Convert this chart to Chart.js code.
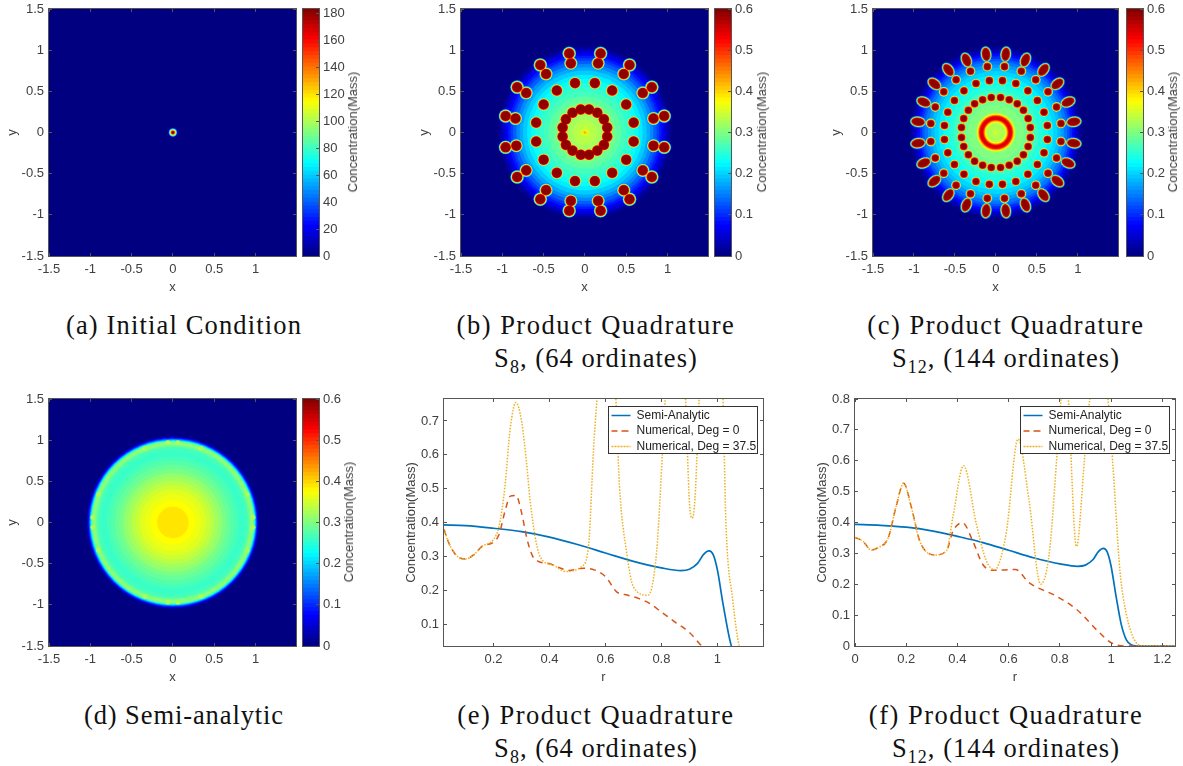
<!DOCTYPE html>
<html>
<head>
<meta charset="utf-8">
<title>Concentration</title>
<script src="https://cdn.jsdelivr.net/npm/chart.js@4"></script>
<style>
  html, body { margin: 0; background: #fff; }
  #page { position: relative; width: 1183px; height: 766px; overflow: hidden; }
  canvas { position: absolute; }
  .cap { position: absolute; transform: translateX(-50%); white-space: nowrap; color: #111;
         font: 26.5px/32px "Liberation Serif", serif; text-align: center; }
  .cap sub { font-size: 18px; line-height: 0; }
  .cbt { position: absolute; white-space: nowrap; color: #404040; font: 13px/14px "Liberation Sans", sans-serif;
         transform: translate(-50%, -50%) rotate(-90deg); }
</style>
</head>
<body>
<div id="page"></div>
<script>
// contour discs: [radius, concentration], outermost first
const discsA = [[0.06,6],[0.054,22],[0.05,45],[0.045,65],[0.04,85],[0.035,105],[0.03,125],[0.025,145],[0.02,165],[0.014,178]];
const discsB = [[1.05,0.01],[1.02,0.03],[0.99,0.05],[0.96,0.07],[0.93,0.09],[0.9,0.11],[0.87,0.13],[0.83,0.155],[0.79,0.175],[0.75,0.195],[0.7,0.215],
  [0.65,0.23],[0.6,0.245],[0.55,0.255],[0.5,0.265],[0.44,0.28],[0.38,0.29],[0.32,0.3],[0.26,0.31],[0.2,0.32],[0.15,0.33],[0.1,0.335],[0.06,0.34],[0.035,0.36],[0.025,0.39],[0.015,0.42]];
const discsC = [[1.05,0.01],[1.02,0.03],[0.99,0.05],[0.96,0.08],[0.93,0.1],[0.9,0.125],[0.87,0.145],[0.83,0.165],[0.79,0.185],[0.75,0.2],[0.7,0.215],
  [0.64,0.23],[0.58,0.245],[0.52,0.26],[0.46,0.275],[0.4,0.29],[0.34,0.3],[0.25,0.31],[0.238,0.33],[0.228,0.38],[0.218,0.43],[0.208,0.49],[0.198,0.53],[0.185,0.55],
  [0.165,0.53],[0.152,0.48],[0.142,0.42],[0.132,0.37],[0.122,0.335],[0.1,0.325],[0.06,0.33],[0.03,0.34],[0.015,0.355]];
const discsD = [[1.05,0.01],[1.04,0.04],[1.03,0.07],[1.02,0.11],[1.01,0.16],[1.0,0.21],[0.99,0.26],[0.98,0.29],[0.97,0.31],[0.95,0.3],[0.93,0.28],[0.91,0.265],[0.87,0.258],
  [0.8,0.266],[0.75,0.275],[0.7,0.285],[0.65,0.295],[0.6,0.31],[0.55,0.32],[0.5,0.335],[0.45,0.345],[0.4,0.357],[0.34,0.365],[0.27,0.375],[0.19,0.39]];

// round spots [x, y]
const spotsB = [[0.19,0.96],[0.16,0.84],[0.54,0.82],[0.47,0.71],[0.81,0.55],[0.7,0.48],[0.96,0.2],[0.83,0.17],[0.12,0.6],[0.33,0.51],[0.5,0.34],[0.59,0.12],[0.05,0.28],[0.15,0.24],[0.23,0.16],[0.27,0.06],
  [-0.19,0.96],[-0.17,0.84],[-0.54,0.82],[-0.47,0.71],[-0.82,0.55],[-0.71,0.48],[-0.96,0.2],[-0.84,0.17],[-0.12,0.6],[-0.34,0.51],[-0.5,0.34],[-0.59,0.12],[-0.05,0.28],[-0.15,0.24],[-0.23,0.16],[-0.27,0.06],
  [-0.19,-0.95],[-0.17,-0.83],[-0.54,-0.81],[-0.47,-0.7],[-0.82,-0.54],[-0.71,-0.46],[-0.96,-0.18],[-0.83,-0.16],[-0.12,-0.59],[-0.34,-0.49],[-0.5,-0.33],[-0.59,-0.11],[-0.05,-0.27],[-0.15,-0.22],[-0.23,-0.15],[-0.27,-0.05],
  [0.19,-0.95],[0.16,-0.83],[0.54,-0.81],[0.47,-0.7],[0.81,-0.54],[0.7,-0.46],[0.96,-0.18],[0.83,-0.16],[0.12,-0.59],[0.33,-0.49],[0.5,-0.33],[0.59,-0.11],[0.05,-0.27],[0.15,-0.22],[0.23,-0.15],[0.27,-0.05]];
const spotsC = [[0.105,0.8],[0.31,0.745],[0.486,0.64],[0.636,0.494],[0.74,0.31],[0.794,0.11],[0.08,0.63],[0.243,0.595],[0.39,0.506],[0.506,0.389],[0.587,0.247],[0.628,0.085],[0.057,0.425],[0.162,0.397],[0.26,0.348],[0.336,0.271],[0.393,0.17],[0.42,0.06],
  [-0.105,0.8],[-0.31,0.745],[-0.486,0.64],[-0.636,0.494],[-0.74,0.31],[-0.794,0.11],[-0.08,0.63],[-0.243,0.595],[-0.39,0.506],[-0.506,0.389],[-0.587,0.247],[-0.628,0.085],[-0.057,0.425],[-0.162,0.397],[-0.26,0.348],[-0.336,0.271],[-0.393,0.17],[-0.42,0.06],
  [-0.105,-0.8],[-0.31,-0.745],[-0.486,-0.64],[-0.636,-0.494],[-0.74,-0.31],[-0.794,-0.11],[-0.08,-0.63],[-0.243,-0.595],[-0.39,-0.506],[-0.506,-0.389],[-0.587,-0.247],[-0.628,-0.085],[-0.057,-0.425],[-0.162,-0.397],[-0.26,-0.348],[-0.336,-0.271],[-0.393,-0.17],[-0.42,-0.06],
  [0.105,-0.8],[0.31,-0.745],[0.486,-0.64],[0.636,-0.494],[0.74,-0.31],[0.794,-0.11],[0.08,-0.63],[0.243,-0.595],[0.39,-0.506],[0.506,-0.389],[0.587,-0.247],[0.628,-0.085],[0.057,-0.425],[0.162,-0.397],[0.26,-0.348],[0.336,-0.271],[0.393,-0.17],[0.42,-0.06]];
const ovalsC = [[0.12,0.95],[0.36,0.88],[0.58,0.76],[0.75,0.59],[0.88,0.37],[0.95,0.13],
  [-0.12,0.95],[-0.36,0.88],[-0.58,0.76],[-0.75,0.59],[-0.88,0.37],[-0.95,0.13],
  [-0.12,-0.95],[-0.36,-0.88],[-0.58,-0.76],[-0.75,-0.59],[-0.88,-0.37],[-0.95,-0.13],
  [0.12,-0.95],[0.36,-0.88],[0.58,-0.76],[0.75,-0.59],[0.88,-0.37],[0.95,-0.13]];
const bumpsD = [[0.06,0.97],[-0.06,0.97],[0.34,0.9],[-0.34,0.9],[0.9,0.34],[-0.9,0.34],[0.97,0.06],[-0.97,0.06],
  [0.06,-0.97],[-0.06,-0.97],[0.34,-0.9],[-0.34,-0.9],[0.9,-0.34],[-0.9,-0.34],[0.97,-0.06],[-0.97,-0.06]];

// halo steps of a spot: [radius, concentration], outermost first
const spotLevelsB = [[0.084,0.14],[0.08,0.2],[0.076,0.27],[0.072,0.34],[0.068,0.42],[0.064,0.47],[0.061,0.53],[0.057,0.59]];
const spotLevelsC = [[0.066,0.14],[0.062,0.2],[0.058,0.27],[0.054,0.34],[0.05,0.42],[0.046,0.5],[0.04,0.55],[0.034,0.59]];
const ovalLevelsC = [[0.066,0.14],[0.062,0.2],[0.058,0.27],[0.054,0.34],[0.05,0.42],[0.046,0.5],[0.043,0.55],[0.04,0.59]];
const bumpLevelsD = [[0.03,0.325]];

// line panels
const rSemiE = [0.023,0.1,0.2,0.3,0.4,0.5,0.6,0.7,0.8,0.87,0.9,0.93,0.95,0.97,0.985,1.0,1.02,1.04,1.05,1.07,1.1,1.163];
const cSemiE = [0.393,0.391,0.383,0.373,0.357,0.335,0.31,0.285,0.266,0.258,0.262,0.28,0.305,0.316,0.305,0.26,0.16,0.07,0.035,0.005,0,0];
const rZeroE = [0.023,0.04,0.06,0.08,0.1,0.13,0.16,0.2,0.22,0.24,0.26,0.28,0.3,0.32,0.34,0.36,0.4,0.44,0.47,0.52,0.56,0.6,0.64,0.68,0.72,0.76,0.8,0.85,0.9,0.95,1.0,1.05];
const cZeroE = [0.38,0.34,0.31,0.295,0.292,0.305,0.33,0.342,0.365,0.43,0.478,0.48,0.43,0.35,0.3,0.285,0.278,0.265,0.258,0.265,0.26,0.24,0.195,0.185,0.175,0.16,0.135,0.105,0.075,0.03,0,0];
const rTiltE = [0.023,0.04,0.06,0.08,0.1,0.13,0.16,0.2,0.22,0.24,0.26,0.28,0.3,0.32,0.33,0.366,0.41,0.46,0.515,0.54,0.557,0.57,0.6,0.62,0.637,0.65,0.675,0.7,0.752,0.783,0.804,0.82,0.86,0.886,0.9,0.91,0.92,0.935,0.97,1.01,1.02,1.03,1.055,1.078,1.1,1.163];
const cTiltE = [0.38,0.34,0.31,0.295,0.292,0.305,0.33,0.35,0.39,0.5,0.68,0.755,0.7,0.56,0.47,0.3,0.275,0.255,0.27,0.335,0.61,0.77,1.1,0.95,0.77,0.51,0.315,0.21,0.185,0.315,0.61,0.85,1.0,0.77,0.46,0.413,0.47,0.765,1.1,0.85,0.765,0.41,0.17,0.035,0.005,0];

const rSemiF = [0,0.1,0.2,0.3,0.4,0.5,0.6,0.7,0.8,0.87,0.9,0.93,0.95,0.97,0.985,1.0,1.02,1.04,1.06,1.08,1.1,1.25];
const cSemiF = [0.394,0.391,0.385,0.373,0.355,0.335,0.31,0.285,0.266,0.258,0.262,0.28,0.305,0.316,0.305,0.26,0.16,0.07,0.02,0.003,0,0];
const rZeroF = [0,0.03,0.064,0.09,0.13,0.16,0.19,0.22,0.253,0.31,0.357,0.383,0.42,0.46,0.5,0.545,0.627,0.68,0.785,0.865,0.955,1.0,1.05,1.25];
const cZeroF = [0.352,0.34,0.311,0.318,0.351,0.45,0.527,0.45,0.34,0.295,0.308,0.373,0.399,0.34,0.263,0.245,0.248,0.205,0.162,0.119,0.043,0.011,0,0];
const rTiltF = [0,0.03,0.064,0.09,0.13,0.16,0.19,0.22,0.253,0.31,0.357,0.383,0.424,0.474,0.513,0.545,0.59,0.637,0.68,0.725,0.76,0.79,0.805,0.825,0.865,0.897,0.917,0.95,0.988,1.008,1.035,1.06,1.09,1.125,1.25];
const cTiltF = [0.352,0.34,0.311,0.318,0.351,0.45,0.527,0.45,0.34,0.295,0.308,0.42,0.584,0.395,0.276,0.247,0.362,0.67,0.47,0.2,0.308,0.632,0.8,0.86,0.322,0.61,0.8,1.0,0.8,0.578,0.243,0.103,0.022,0,0];

const seriesNames = ['Semi-Analytic', 'Numerical, Deg = 0', 'Numerical, Deg = 37.5'];
const barTops = [183.5, 0.6, 0.6, 0.6];
const barSteps = [20, 0.1, 0.1, 0.1];

const SANS = '"Liberation Sans", Arial, sans-serif';
const AXIS = '#555555';
const TEXT = '#404040';
const page = document.getElementById('page');
Chart.defaults.font.family = SANS;
Chart.defaults.font.size = 13;
Chart.defaults.color = TEXT;

function jet(t) {
  t = Math.max(0, Math.min(1, t));
  const band = c => Math.round(255 * Math.max(0, Math.min(1, 1.5 - Math.abs(4 * t - c))));
  return `rgb(${band(3)},${band(2)},${band(1)})`;
}

function addCanvas(left, top, w, h) {
  const c = document.createElement('canvas');
  c.width = w; c.height = h;
  c.style.left = left + 'px'; c.style.top = top + 'px';
  c.style.width = w + 'px'; c.style.height = h + 'px';
  page.appendChild(c);
  return c;
}

const fmt = v => String(+(+v).toFixed(2));
const frame = {
  id: 'frame',
  afterDraw(chart) {
    const a = chart.chartArea, ctx = chart.ctx;
    ctx.save();
    ctx.strokeStyle = AXIS;
    ctx.lineWidth = 1;
    ctx.strokeRect(Math.round(a.left) - 0.5, Math.round(a.top) - 0.5, Math.round(a.width) + 1, Math.round(a.height) + 1);
    ctx.restore();
  }
};

// axis with inward tick marks; fit = thickness handed to the layout
function axis(position, min, max, step, fit, opts = {}) {
  return Object.assign({
    type: 'linear', position, min, max,
    afterFit(s) {
      if (position === 'top' || position === 'bottom') s.height = fit; else s.width = fit;
      s.paddingTop = s.paddingBottom = s.paddingLeft = s.paddingRight = 0;
    },
    border: { display: false },
    grid: { drawOnChartArea: false, drawTicks: true, tickLength: -3, color: AXIS, z: 1 },
    ticks: { display: opts.labels !== false, stepSize: step, includeBounds: false, autoSkip: false, maxRotation: 0, padding: opts.pad || 8, callback: fmt, color: TEXT, font: { size: 13 } },
    title: opts.title ? { display: true, text: opts.title, color: TEXT, font: { size: 13 }, padding: opts.titlePad } : { display: false }
  }, opts.extra || {});
}

function boxAxes(xMin, xMax, xStep, yMin, yMax, yStep, yTitlePad) {
  return {
    x: axis('bottom', xMin, xMax, xStep, 40, { title: 'x', titlePad: { top: 0, bottom: 0.5 }, pad: 9 }),
    y: axis('left', yMin, yMax, yStep, 50, { title: 'y', titlePad: { top: yTitlePad, bottom: 0 } }),
    x2: axis('top', xMin, xMax, xStep, 0, { labels: false }),
    y2: axis('right', yMin, yMax, yStep, 0, { labels: false })
  };
}

function pxRadius(ctx) {
  const s = ctx.chart.scales.x;
  return Math.abs(s.getPixelForValue(ctx.raw.r) - s.getPixelForValue(0));
}

function localValue(x, y, discs) {
  const r = Math.hypot(x, y);
  let v = 0;
  for (const d of discs) if (d[0] >= r) v = d[1];
  return v;
}

function ovalSprite(halfW, halfL, colour) {
  const c = document.createElement('canvas');
  c.width = Math.ceil(2 * halfW + 2); c.height = Math.ceil(2 * halfL + 2);
  const g = c.getContext('2d');
  g.fillStyle = colour;
  g.beginPath();
  g.ellipse(c.width / 2, c.height / 2, halfW, halfL, 0, 0, 2 * Math.PI);
  g.fill();
  return c;
}

function heatPanel(L, T, discs, vmax, groups, yLabelX) {
  const datasets = [];
  const ppu = 247 / 2.99;
  const all = [[3, 0], ...discs];
  datasets.push({
    data: all.map(d => ({ x: 0, y: 0, r: d[0], v: d[1] })),
    pointRadius: pxRadius,
    pointBackgroundColor: ctx => jet(ctx.raw.v / vmax),
    pointBorderWidth: 0
  });
  for (const g of groups) {
    for (const [r, v] of g.levels) {
      const pts = g.points.filter(p => v > localValue(p[0], p[1], discs));
      if (!pts.length) continue;
      if (g.oval) {
        datasets.push({
          data: pts.map(p => ({ x: p[0], y: p[1] })),
          pointStyle: ovalSprite((r + 0.002) * ppu, (r + 0.032) * ppu, jet(v / vmax)),
          pointRadius: 5,
          pointRotation: ctx => Math.atan2(ctx.raw.x, ctx.raw.y) * 180 / Math.PI,
          pointBorderWidth: 0
        });
      } else {
        datasets.push({
          data: pts.map(p => ({ x: p[0], y: p[1], r })),
          pointRadius: pxRadius,
          pointBackgroundColor: jet(v / vmax),
          pointBorderWidth: 0
        });
      }
    }
  }
  datasets.forEach((d, i) => { d.order = datasets.length - i; d.showLine = false; });
  new Chart(addCanvas(L - 50, T - 8, 247 + 53, 247 + 48), {
    type: 'scatter',
    data: { datasets },
    options: {
      responsive: false, animation: false, events: [],
      layout: { padding: { top: 8, right: 3, left: 0, bottom: 0 } },
      plugins: { legend: { display: false }, tooltip: { enabled: false } },
      scales: boxAxes(-1.5, 1.49, 0.5, -1.5, 1.5, 0.5, yLabelX)
    },
    plugins: [frame]
  });
}

function colourBar(L, T, top, step, titleX) {
  const datasets = [];
  for (let i = 1; i <= 64; i++) {
    datasets.push({ data: [[0, top * i / 64]], backgroundColor: jet((i - 0.5) / 64), barPercentage: 1, categoryPercentage: 1, grouped: false, borderWidth: 0 });
  }
  new Chart(addCanvas(L - 2, T - 8, 16 + 2 + 40, 247 + 16), {
    type: 'bar',
    data: { labels: [''], datasets },
    options: {
      responsive: false, animation: false, events: [],
      layout: { padding: { left: 2, top: 8, bottom: 8, right: 0 } },
      plugins: { legend: { display: false }, tooltip: { enabled: false } },
      scales: {
        x: { display: false, stacked: false },
        y: axis('right', 0, top, step, 40, { pad: 7 })
      }
    },
    plugins: [frame]
  });
  const t = document.createElement('div');
  t.className = 'cbt';
  t.textContent = 'Concentration(Mass)';
  t.style.left = titleX + 'px';
  t.style.top = (T + 123) + 'px';
  page.appendChild(t);
}

function legendBox(dx, dy, w, h) {
  return {
    id: 'legendBox',
    afterLayout(chart) {
      const a = chart.chartArea, l = chart.legend;
      l.left = a.left + dx; l.top = a.top + dy;
      l.right = l.left + w;
    },
    afterDatasetsDraw(chart) {
      const l = chart.legend, ctx = chart.ctx;
      ctx.save();
      ctx.fillStyle = '#fff';
      ctx.strokeStyle = '#333';
      ctx.lineWidth = 1;
      ctx.fillRect(l.left, l.top, w, h);
      ctx.strokeRect(Math.round(l.left) + 0.5, Math.round(l.top) + 0.5, w - 1, h - 1);
      ctx.restore();
      l.draw();
    }
  };
}

function zip(xs, ys) { return xs.map((x, i) => ({ x, y: ys[i] })); }

function linePanel(L, T, W, curves, xr, yr, dx, yPad) {
  const styles = [
    { borderColor: '#0072BD', borderWidth: 1.7, order: 3 },
    { borderColor: '#D95319', borderWidth: 1.5, borderDash: [6, 5], order: 2 },
    { borderColor: '#EDB120', borderWidth: 1.5, borderDash: [1.5, 1.5], order: 1 }
  ];
  const datasets = curves.map((c, i) => Object.assign({
    label: seriesNames[i], data: zip(c[0], c[1]), showLine: true, pointRadius: 0,
    cubicInterpolationMode: 'monotone', backgroundColor: 'transparent'
  }, styles[i]));
  const scales = boxAxes(xr[0], xr[1], 0.2, yr[0], yr[1], 0.1, yPad);
  scales.x.title.text = 'r';
  scales.y.title.text = 'Concentration(Mass)';
  new Chart(addCanvas(L - 50, T - 8, W + 53, 247 + 48), {
    type: 'scatter',
    data: { datasets },
    options: {
      responsive: false, animation: false, events: [],
      layout: { padding: { top: 8, right: 3, left: 0, bottom: 0 } },
      plugins: {
        tooltip: { enabled: false },
        legend: { position: 'chartArea', align: 'start', labels: { boxWidth: 19, boxHeight: 0, padding: 3.5, color: '#222', font: { size: 12 }, sort: (a, b) => a.datasetIndex - b.datasetIndex } }
      },
      scales
    },
    plugins: [frame, legendBox(dx, 7, 150, 48)]
  });
}

heatPanel(49, 9, discsA, barTops[0], [], 6);
colourBar(303, 9, barTops[0], barSteps[0], 353);
heatPanel(461, 9, discsB, barTops[1], [{ points: spotsB, levels: spotLevelsB }], 6);
colourBar(715, 9, barTops[1], barSteps[1], 762);
heatPanel(873, 9, discsC, barTops[2], [{ points: ovalsC, levels: ovalLevelsC, oval: true }, { points: spotsC, levels: spotLevelsC }], 6);
colourBar(1127, 9, barTops[2], barSteps[2], 1173);
heatPanel(49, 399, discsD, barTops[3], [{ points: bumpsD, levels: bumpLevelsD }], 6);
colourBar(303, 399, barTops[3], barSteps[3], 349);

linePanel(444, 399, 319, [[rSemiE, cSemiE], [rZeroE, cZeroE], [rTiltE, cTiltE]], [0.023, 1.163], [0.035, 0.765], 164, 10);
linePanel(855, 399, 320, [[rSemiF, cSemiF], [rZeroF, cZeroF], [rTiltF, cTiltF]], [0, 1.25], [0, 0.8], 165, 10);

// [centre x, top, letter spacing, text]
const captions = [
  [184, 309, 1.15, '(a) Initial Condition'],
  [596, 309, 1.5, '(b) Product Quadrature'],
  [596, 342, 1.05, 'S<sub>8</sub>, (64 ordinates)'],
  [1006, 309, 1.5, '(c) Product Quadrature'],
  [1006, 342, 1.05, 'S<sub>12</sub>, (144 ordinates)'],
  [184, 699, 0.9, '(d) Semi-analytic'],
  [596, 699, 1.5, '(e) Product Quadrature'],
  [596, 732, 1.05, 'S<sub>8</sub>, (64 ordinates)'],
  [1006, 699, 1.5, '(f) Product Quadrature'],
  [1006, 732, 1.05, 'S<sub>12</sub>, (144 ordinates)']
];
captions.forEach(([x, y, gap, html]) => {
  const d = document.createElement('div');
  d.className = 'cap';
  d.style.left = x + 'px';
  d.style.top = y + 'px';
  d.style.letterSpacing = gap + 'px';
  d.innerHTML = html;
  page.appendChild(d);
});
</script>
</body>
</html>
